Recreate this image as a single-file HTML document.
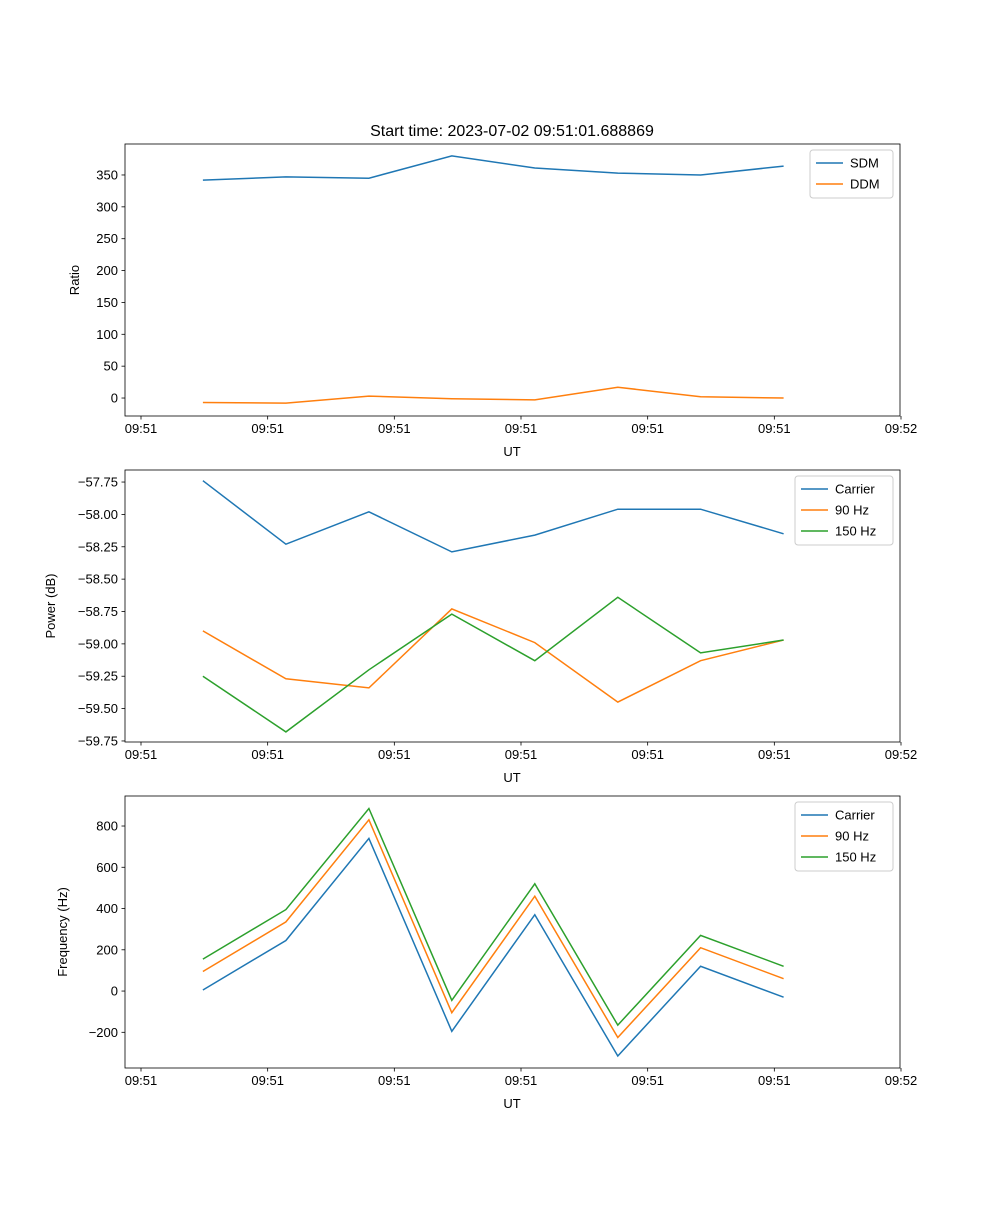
<!DOCTYPE html>
<html><head><meta charset="utf-8"><style>
body{margin:0;background:#fff}
svg text{font-family:"Liberation Sans","DejaVu Sans",sans-serif;fill:#000}
</style></head><body>
<svg id="fig" width="1000" height="1200" xmlns="http://www.w3.org/2000/svg">
<rect width="1000" height="1200" fill="#fff"/>
<text x="512" y="136" font-size="16" text-anchor="middle">Start time: 2023-07-02 09:51:01.688869</text>
</svg>
<script>
const times=[4.89,11.44,17.99,24.54,31.09,37.64,44.18,50.73];
const tickTimes=[0,10,20,30,40,50,60];
const tickLabels=["09:51","09:51","09:51","09:51","09:51","09:51","09:52"];
const sdm=[342,347,345,380,361,353,350,364];
const ddm=[-7,-8,3,-1,-3,17,2,0];
const pCarrier=[-57.74,-58.23,-57.98,-58.29,-58.16,-57.96,-57.96,-58.15];
const p90=[-58.90,-59.27,-59.34,-58.73,-58.99,-59.45,-59.13,-58.97];
const p150=[-59.25,-59.68,-59.20,-58.77,-59.13,-58.64,-59.07,-58.97];
const fCarrier=[5,245,740,-195,370,-315,120,-30];
const f90=[95,335,830,-105,460,-225,210,60];
const f150=[155,395,885,-45,520,-165,270,120];
const ratioTicks=[0,50,100,150,200,250,300,350];
const powerTicks=[-59.75,-59.5,-59.25,-59,-58.75,-58.5,-58.25,-58,-57.75];
const freqTicks=[-200,0,200,400,600,800];

const NS="http://www.w3.org/2000/svg";
const svg=document.getElementById('fig');
const L=125,R=900;
function mk(tag,attrs,parent){const e=document.createElementNS(NS,tag);for(const k in attrs)e.setAttribute(k,attrs[k]);(parent||svg).appendChild(e);return e;}
function xScale(t){return 141+(t-0)*(901-141)/60;}
function panel(name,top,bottom,ymin,ymax,yTicks,fmt,ylabel,ylabelX,series,legend){
  const g=mk('g',{});
  
  
  const y=v=>bottom-(v-ymin)/(ymax-ymin)*(bottom-top);
  series.forEach(s=>{
    const pts=times.map((t,i)=>xScale(t).toFixed(1)+','+y(s.vals[i]).toFixed(1)).join(' ');
    const pl=mk('polyline',{points:pts,fill:'none',stroke:s.color,'stroke-width':1.5},g);
    
    
  });
  mk('rect',{x:L,y:top,width:R-L,height:bottom-top,fill:'none',stroke:'#000','stroke-width':0.8},g);
  tickTimes.forEach((t,i)=>{
    const x=xScale(t);
    mk('line',{x1:x,y1:bottom,x2:x,y2:bottom+3.5,stroke:'#000','stroke-width':0.8},g);
    const tx=mk('text',{x:x,y:bottom+17,'font-size':13,'text-anchor':'middle'},g);
    tx.textContent=tickLabels[i];
    
    
  });
  const xl=mk('text',{x:512,y:bottom+40,'font-size':13,'text-anchor':'middle'},g);
  xl.textContent='UT';
  
  
  yTicks.forEach(v=>{
    const yy=y(v);
    mk('line',{x1:L-3.5,y1:yy,x2:L,y2:yy,stroke:'#000','stroke-width':0.8},g);
    const tx=mk('text',{x:L-7,y:yy+4.5,'font-size':13,'text-anchor':'end'},g);
    tx.textContent=fmt(v);
    
    
  });
  const yl=mk('text',{x:ylabelX,y:(top+bottom)/2,'font-size':13,'text-anchor':'middle',transform:`rotate(-90 ${ylabelX} ${(top+bottom)/2})`},g);
  yl.textContent=ylabel;
  
  
  const lg=mk('g',{},g);
  
  
  mk('rect',{x:legend.x,y:top+6,width:legend.w,height:series.length*21+6,rx:3,fill:'#fff',stroke:'#ccc','stroke-width':1},lg);
  series.forEach((s,i)=>{
    const yy=top+19+i*21;
    mk('line',{x1:legend.x+6,y1:yy,x2:legend.x+33,y2:yy,stroke:s.color,'stroke-width':1.5},lg);
    const tx=mk('text',{x:legend.x+40,y:yy+4.5,'font-size':13},lg);
    tx.textContent=s.key;
    
    
  });
}
const m=v=>String(v).replace('-','\u2212');
panel('ratio',144,416,-28.2,398.6,ratioTicks,v=>m(v),'Ratio',79,
 [{key:'SDM',vals:sdm,color:'#1f77b4'},{key:'DDM',vals:ddm,color:'#ff7f0e'}],{x:810,w:83});
panel('power',470,742,-59.758,-57.657,powerTicks,v=>m(v.toFixed(2)),'Power (dB)',55,
 [{key:'Carrier',vals:pCarrier,color:'#1f77b4'},{key:'90 Hz',vals:p90,color:'#ff7f0e'},{key:'150 Hz',vals:p150,color:'#2ca02c'}],{x:795,w:98});
panel('frequency',796,1068,-373,945.5,freqTicks,v=>m(v),'Frequency (Hz)',67,
 [{key:'Carrier',vals:fCarrier,color:'#1f77b4'},{key:'90 Hz',vals:f90,color:'#ff7f0e'},{key:'150 Hz',vals:f150,color:'#2ca02c'}],{x:795,w:98});
</script>
</body></html>
